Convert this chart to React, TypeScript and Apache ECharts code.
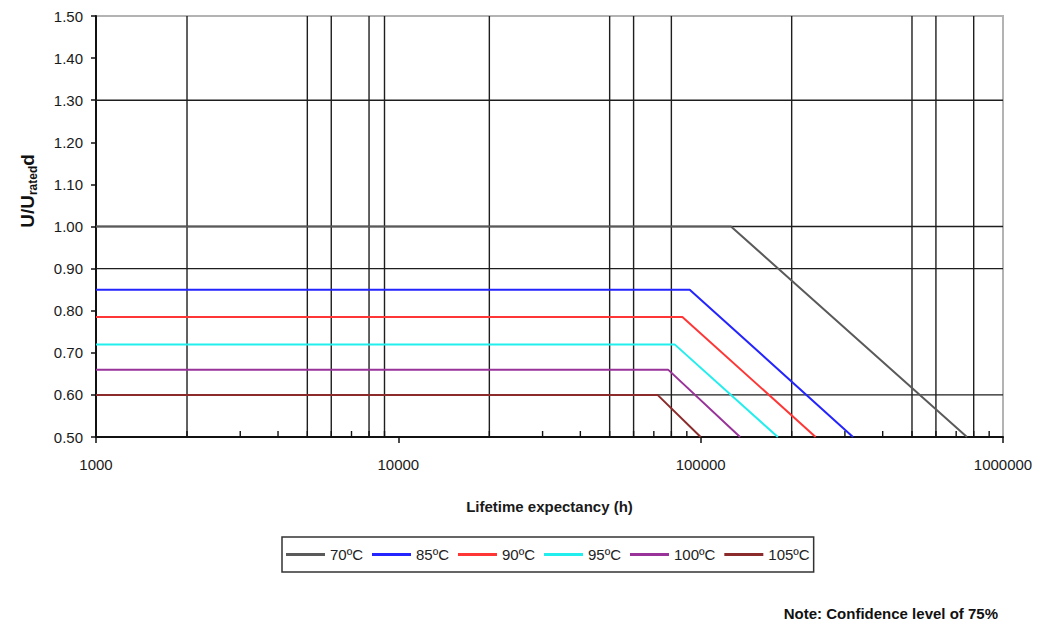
import React, { useEffect, useRef } from 'react';
import * as echarts from 'echarts';

const FONT = '"Liberation Sans", Arial, Helvetica, sans-serif';

// Series: capacitor derating curves
const temps = ['70ºC', '85ºC', '90ºC', '95ºC', '100ºC', '105ºC'];
const plateauLevel = [1.0, 0.85, 0.785, 0.72, 0.66, 0.6];
const startHours = [1000, 1000, 1000, 1000, 1000, 1000];
const kneeHours = [126000, 92000, 87000, 82000, 78000, 72000];
const endHours = [760000, 319000, 240000, 180000, 135000, 100000];
const endLevel = [0.5, 0.5, 0.5, 0.5, 0.5, 0.5];
const colors = ['#5a5a5a', '#2424ff', '#ff3636', '#22eeee', '#993399', '#8b2b2b'];

// Axes
const X_MIN = 1000;
const X_MAX = 1000000;
const Y_MIN = 0.5;
const Y_MAX = 1.5;
const Y_STEP = 0.1;
const xTickLabels = ['1000', '10000', '100000', '1000000'];

// Grid lines as drawn in the reference
const vGridHours = [2000, 5000, 6000, 8000, 9000, 20000, 50000, 60000, 80000, 200000, 500000, 600000, 800000];
const hGridLevels = [0.6, 0.9, 1.0, 1.3];
const minorTickHours = [
  2000, 3000, 4000, 5000, 6000, 7000, 8000, 9000,
  20000, 30000, 40000, 50000, 60000, 70000, 80000, 90000,
  200000, 300000, 400000, 500000, 600000, 700000, 800000, 900000,
];

export default function App() {
  const ref = useRef<HTMLDivElement>(null);

  useEffect(() => {
    const chart = echarts.init(ref.current!, null, { renderer: 'svg' });

    const lineSeries = temps.map((name, i) => ({
      name,
      type: 'line',
      symbol: 'none',
      z: 5,
      color: colors[i],
      lineStyle: { width: 2, color: colors[i] },
      data: [
        [startHours[i], plateauLevel[i]],
        [kneeHours[i], plateauLevel[i]],
        [endHours[i], endLevel[i]],
      ],
    }));

    const option: any = {
      animation: false,
      backgroundColor: '#ffffff',
      grid: {
        left: 96,
        right: 46,
        top: 16,
        bottom: 189,
        show: true,
        borderColor: '#b3b3b3',
        borderWidth: 2,
        backgroundColor: 'transparent',
      },
      legend: {
        data: temps,
        left: 282,
        top: 537,
        orient: 'horizontal',
        icon: 'rect',
        itemWidth: 39,
        itemHeight: 3,
        itemGap: 9,
        padding: [10, 4, 10, 4],
        borderColor: '#333333',
        borderWidth: 1.5,
        textStyle: { fontSize: 15, color: '#222222', fontFamily: FONT },
      },
      xAxis: {
        type: 'log',
        logBase: 10,
        min: X_MIN,
        max: X_MAX,
        name: 'Lifetime expectancy (h)',
        nameLocation: 'middle',
        nameGap: 62,
        nameTextStyle: { fontSize: 15, fontWeight: 'bold', color: '#1a1a1a', fontFamily: FONT },
        axisLine: { show: true, lineStyle: { color: '#111111', width: 2 } },
        axisTick: { show: true, length: 6, lineStyle: { color: '#111111', width: 1.5 } },
        axisLabel: {
          margin: 20,
          fontSize: 15,
          color: '#1a1a1a',
          fontFamily: FONT,
          formatter: (v: number) => {
            const idx = Math.round(Math.log10(v) - Math.log10(X_MIN));
            return xTickLabels[idx] ?? String(Math.round(v));
          },
        },
        splitLine: { show: false },
      },
      yAxis: {
        type: 'value',
        min: Y_MIN,
        max: Y_MAX,
        interval: Y_STEP,
        axisLine: { show: true, lineStyle: { color: '#111111', width: 2 } },
        axisTick: { show: true, length: 5, lineStyle: { color: '#111111', width: 1.5 } },
        axisLabel: {
          margin: 13,
          fontSize: 15,
          color: '#1a1a1a',
          fontFamily: FONT,
          formatter: (v: number) => v.toFixed(2),
        },
        splitLine: { show: false },
      },
      graphic: [
        {
          type: 'text',
          x: 27,
          y: 191,
          rotation: Math.PI / 2,
          style: {
            text: '{a|U/U}{b|rated}{a|d}',
            align: 'center',
            verticalAlign: 'middle',
            fill: '#111111',
            rich: {
              a: { fontSize: 19, fontWeight: 'bold', fontFamily: FONT, lineHeight: 24, verticalAlign: 'middle', fill: '#111111' },
              b: { fontSize: 12, fontWeight: 'bold', fontFamily: FONT, verticalAlign: 'bottom', fill: '#111111' },
            },
          },
        },
        {
          type: 'text',
          right: 51,
          top: 606,
          style: {
            text: 'Note: Confidence level of 75%',
            font: `bold 15px ${FONT}`,
            fill: '#111111',
          },
        },
      ],
      series: [
        {
          type: 'custom',
          name: 'vgrid',
          silent: true,
          z: 1,
          data: vGridHours.map((h) => [h, Y_MIN]),
          renderItem: (params: any, api: any) => {
            const h = api.value(0);
            const a = api.coord([h, Y_MIN]);
            const b = api.coord([h, Y_MAX]);
            return {
              type: 'line',
              shape: { x1: a[0], y1: a[1], x2: b[0], y2: b[1] },
              style: { stroke: '#1e1e1e', lineWidth: 1.4 },
            };
          },
        },
        {
          type: 'custom',
          name: 'hgrid',
          silent: true,
          z: 1,
          data: hGridLevels.map((v) => [X_MIN, v]),
          renderItem: (params: any, api: any) => {
            const v = api.value(1);
            const a = api.coord([X_MIN, v]);
            const b = api.coord([X_MAX, v]);
            return {
              type: 'line',
              shape: { x1: a[0], y1: a[1], x2: b[0], y2: b[1] },
              style: { stroke: '#1e1e1e', lineWidth: 1.4 },
            };
          },
        },
        {
          type: 'custom',
          name: 'minorTicks',
          silent: true,
          z: 2,
          data: minorTickHours.map((h) => [h, Y_MIN]),
          renderItem: (params: any, api: any) => {
            const h = api.value(0);
            const a = api.coord([h, Y_MIN]);
            return {
              type: 'line',
              shape: { x1: a[0], y1: a[1], x2: a[0], y2: a[1] - 6 },
              style: { stroke: '#111111', lineWidth: 1.4 },
            };
          },
        },
        ...lineSeries,
      ],
    };

    chart.setOption(option);
    return () => chart.dispose();
  }, []);

  return (
    <div
      ref={ref}
      style={{ position: 'fixed', left: 0, top: 0, width: 1049, height: 626, background: '#ffffff' }}
    />
  );
}
